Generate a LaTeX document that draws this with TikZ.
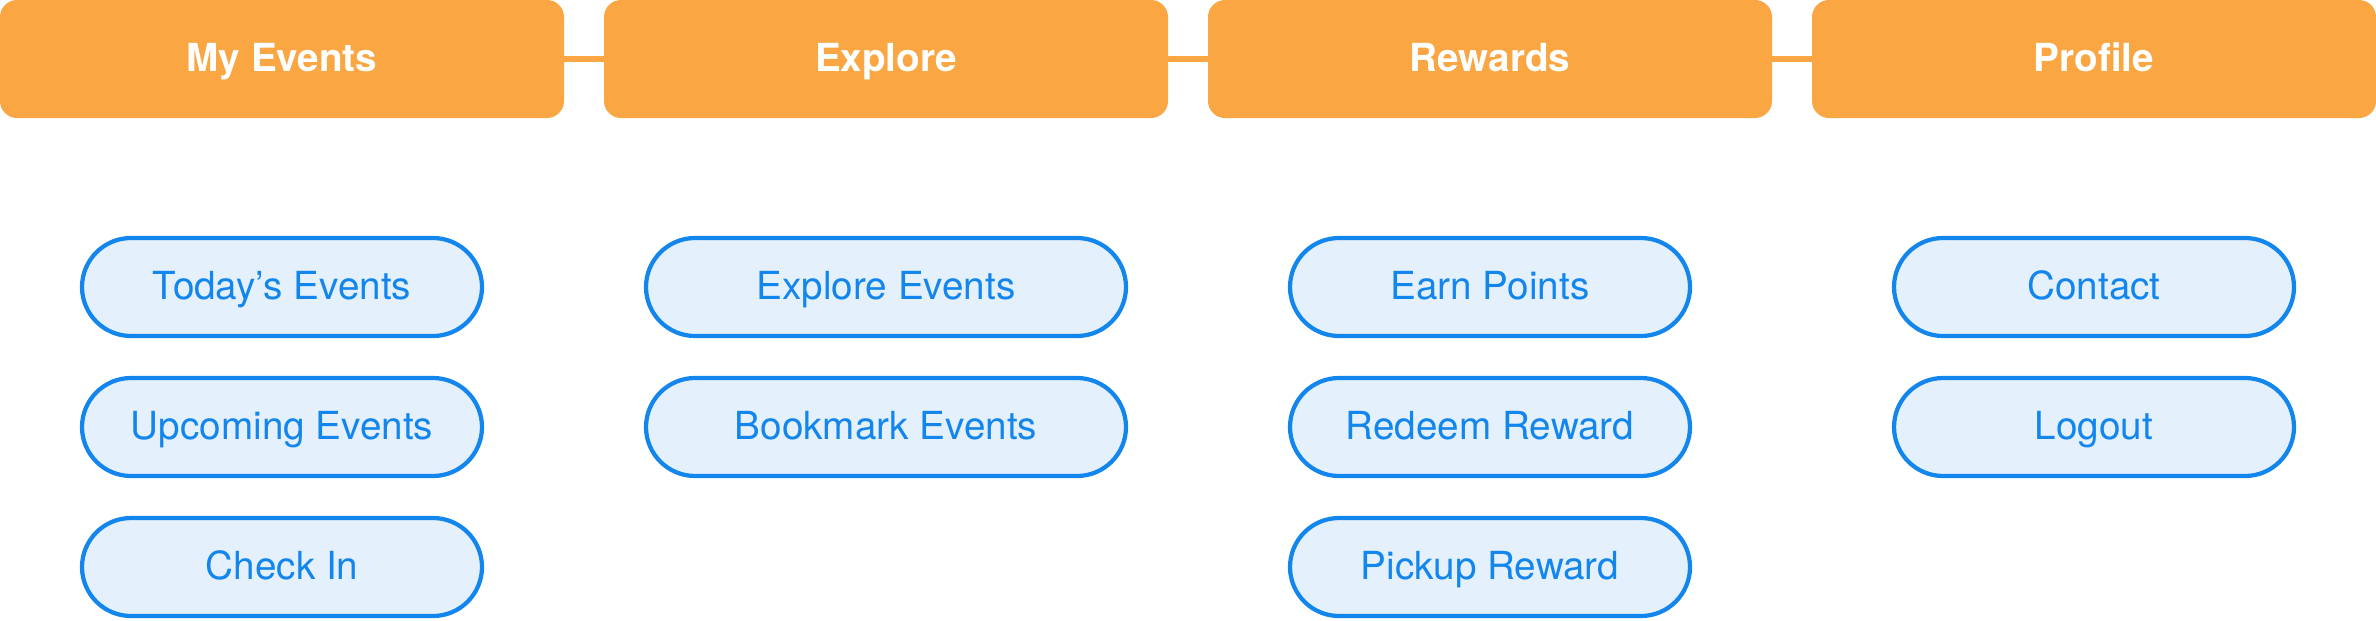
\documentclass[tikz,border=0pt]{standalone}
\usepackage{fontspec}
\setmainfont{TeX Gyre Heros}
\usetikzlibrary{positioning}

\definecolor{taborange}{HTML}{FAA642}
\definecolor{itemblue}{HTML}{1386EE}
\definecolor{itemfill}{HTML}{E4F0FC}

\begin{document}
\begin{tikzpicture}[
    node distance=1.2cm and 0.4cm,
    font=\fontsize{11}{13}\selectfont,
    % Style definitions
    tab/.style={fill=taborange, rounded corners=0.17cm, minimum width=5.64cm, minimum height=1.18cm, text height=0.72em, text depth=0pt, text=white, font=\fontsize{11}{13}\selectfont\bfseries, outer sep=0pt},
    item/.style={draw=itemblue, line width=1.2pt, fill=itemfill, rounded corners=0.49cm, minimum width=4.0cm, minimum height=0.98cm, text height=0.72em, text depth=0pt, text=itemblue, outer sep=0pt},
    wideitem/.style={item, minimum width=4.8cm},
    link/.style={taborange, line width=1.7pt},
]
\useasboundingbox (0,0) rectangle (23.76,-6.20);

%% ---------- TOP MENU ----------
\node[tab, anchor=north west] (my_events) at (0,0) {My Events};
\node[tab, right=of my_events] (explore) {Explore};
\node[tab, right=of explore] (rewards) {Rewards};
\node[tab, right=of rewards] (profile) {Profile};

%% ---------- MY EVENTS ITEMS ----------
\node[item, below=of my_events] (todays_events) {Today’s Events};
\node[item, below=0.42cm of todays_events] (upcoming_events) {Upcoming Events};
\node[item, below=0.42cm of upcoming_events] (check_in) {Check In};

%% ---------- EXPLORE ITEMS ----------
\node[wideitem, below=of explore] (explore_events) {Explore Events};
\node[wideitem, below=0.42cm of explore_events] (bookmark_events) {Bookmark Events};

%% ---------- REWARDS ITEMS ----------
\node[item, below=of rewards] (earn_points) {Earn Points};
\node[item, below=0.42cm of earn_points] (redeem_reward) {Redeem Reward};
\node[item, below=0.42cm of redeem_reward] (pickup_reward) {Pickup Reward};

%% ---------- PROFILE ITEMS ----------
\node[item, below=of profile] (contact) {Contact};
\node[item, below=0.42cm of contact] (logout) {Logout};

%% ========== LINKS ==========
\draw[link] (my_events) -- (explore);
\draw[link] (explore) -- (rewards);
\draw[link] (rewards) -- (profile);

\end{tikzpicture}
\end{document}
